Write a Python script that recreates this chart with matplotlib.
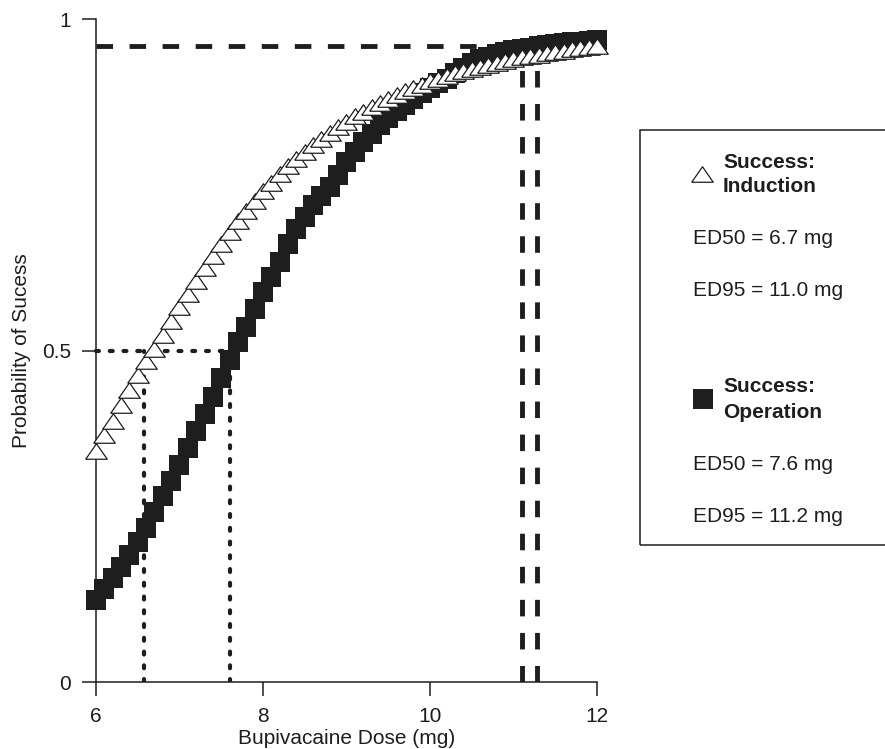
import matplotlib
matplotlib.use('Agg')
import matplotlib.pyplot as plt
import numpy as np
from matplotlib.patches import Rectangle

plt.rcParams['font.family'] = ['Liberation Sans', 'DejaVu Sans']

# Dose grid (mg) shared by both series
dose = [6.0, 6.1, 6.2, 6.3, 6.4, 6.5, 6.6, 6.7, 6.8, 6.9,
        7.0, 7.1, 7.2, 7.3, 7.4, 7.5, 7.6, 7.7, 7.8, 7.9,
        8.0, 8.1, 8.2, 8.3, 8.4, 8.5, 8.6, 8.7, 8.8, 8.9,
        9.0, 9.1, 9.2, 9.3, 9.4, 9.5, 9.6, 9.7, 9.8, 9.9,
        10.0, 10.1, 10.2, 10.3, 10.4, 10.5, 10.6, 10.7, 10.8, 10.9,
        11.0, 11.1, 11.2, 11.3, 11.4, 11.5, 11.6, 11.7, 11.8, 11.9,
        12.0]

# Probability of success - induction (triangles)
p_induction = [0.349, 0.372, 0.394, 0.418, 0.441, 0.463, 0.484, 0.503, 0.524, 0.545,
               0.565, 0.585, 0.605, 0.624, 0.642, 0.660, 0.678, 0.695, 0.711, 0.726,
               0.740, 0.753, 0.766, 0.778, 0.789, 0.800, 0.810, 0.819, 0.828, 0.837,
               0.845, 0.853, 0.860, 0.867, 0.874, 0.880, 0.886, 0.891, 0.896, 0.901,
               0.906, 0.910, 0.914, 0.918, 0.921, 0.925, 0.928, 0.931, 0.934, 0.937,
               0.940, 0.942, 0.944, 0.946, 0.948, 0.950, 0.952, 0.954, 0.956, 0.958,
               0.960]

# Probability of success - operation (squares)
p_operation = [0.123, 0.140, 0.157, 0.174, 0.191, 0.211, 0.233, 0.256, 0.280, 0.303,
               0.328, 0.353, 0.379, 0.404, 0.430, 0.458, 0.486, 0.513, 0.536, 0.562,
               0.588, 0.611, 0.633, 0.661, 0.683, 0.701, 0.719, 0.733, 0.747, 0.765,
               0.784, 0.800, 0.814, 0.827, 0.840, 0.851, 0.861, 0.870, 0.879, 0.888,
               0.896, 0.903, 0.910, 0.918, 0.926, 0.933, 0.939, 0.943, 0.947, 0.950,
               0.953, 0.955, 0.957, 0.959, 0.961, 0.963, 0.964, 0.965, 0.966, 0.967,
               0.968]

# Reference lines
ed50_level = 0.5
ed50_doses = [6.57, 7.6]
ed95_level = 0.96
ed95_doses = [11.1, 11.28]

# Legend texts
legend_induction = ['ED50 = 6.7 mg', 'ED95 = 11.0 mg']
legend_operation = ['ED50 = 7.6 mg', 'ED95 = 11.2 mg']

W, H = 885, 749
fig = plt.figure(figsize=(W / 100, H / 100), dpi=100)
ax = fig.add_axes([96 / W, 1 - 682 / H, (597 - 96) / W, (682 - 19) / H])

# Triangle marker, wider than tall
tri = [(-1, -0.72), (1, -0.72), (0, 0.72), (-1, -0.72)]

dot_style = (0, (0.7, 2.6))
dash_style = (0, (3.4, 3.4))

# Dotted ED50 lines
ax.plot([6, max(ed50_doses)], [ed50_level, ed50_level], color='#1e1e1e', lw=3.0,
        linestyle=dot_style, dash_capstyle='round', zorder=1, clip_on=False)
for d in ed50_doses:
    ax.plot([d, d], [0, ed50_level], color='#1e1e1e', lw=3.0,
            linestyle=dot_style, dash_capstyle='round', zorder=1)

# Dashed ED95 lines
ax.plot([6, max(ed95_doses)], [ed95_level, ed95_level], color='#1e1e1e', lw=3.5,
        linestyle=dash_style, zorder=1)
for d in ed95_doses:
    ax.plot([d, d], [0, ed95_level], color='#1e1e1e', lw=3.5,
            linestyle=dash_style, zorder=1)

# Data series
ax.plot(dose, p_operation, linestyle='none', marker='s', markersize=14.4,
        markerfacecolor='#1e1e1e', markeredgecolor='#1e1e1e', markeredgewidth=0,
        zorder=3, clip_on=False)
ax.plot(dose, p_induction, linestyle='none', marker=tri, markersize=15.5,
        markerfacecolor='white', markeredgecolor='#1e1e1e', markeredgewidth=0.9,
        zorder=4, clip_on=False)

ax.set_xlim(6, 12)
ax.set_ylim(0, 1)
ax.set_xticks([6, 8, 10, 12])
ax.set_yticks([0, 0.5, 1])
ax.set_yticklabels(['0', '0.5', '1'])
ax.spines['top'].set_visible(False)
ax.spines['right'].set_visible(False)
for s in ['left', 'bottom']:
    ax.spines[s].set_linewidth(1.1)
    ax.spines[s].set_color('#1e1e1e')
ax.tick_params(direction='out', length=10, width=1.1, color='#1e1e1e',
               labelsize=15, pad=8, labelcolor='#1e1e1e')
ax.set_xlabel('Bupivacaine Dose (mg)', fontsize=15, color='#1e1e1e', labelpad=2)
ax.set_ylabel('Probability of Sucess', fontsize=15, color='#1e1e1e', labelpad=8)

# Legend box drawn by hand
def fx(px):
    return px / W

def fy(py):
    return 1 - py / H

fig.patches.append(Rectangle((fx(640), fy(545)), 0.4, fy(130) - fy(545),
                             transform=fig.transFigure, fill=False,
                             edgecolor='#1e1e1e', lw=1.1))

fig.lines.append(plt.Line2D([fx(702)], [fy(174)], transform=fig.transFigure,
                            marker=tri, markersize=15.5, markerfacecolor='white',
                            markeredgecolor='#1e1e1e', markeredgewidth=0.9,
                            linestyle='none'))
fig.lines.append(plt.Line2D([fx(702.5)], [fy(399.5)], transform=fig.transFigure,
                            marker='s', markersize=14.4, markerfacecolor='#1e1e1e',
                            markeredgewidth=0, linestyle='none'))

tkw = dict(fontsize=15, color='#1e1e1e', va='center', ha='left')
fig.text(fx(723), fy(162), 'Success:', fontweight='bold', **tkw)
fig.text(fx(723), fy(187), 'Induction', fontweight='bold', **tkw)
fig.text(fx(693), fy(238), legend_induction[0], **tkw)
fig.text(fx(693), fy(290), legend_induction[1], **tkw)
fig.text(fx(723), fy(387), 'Success:', fontweight='bold', **tkw)
fig.text(fx(723), fy(413), 'Operation', fontweight='bold', **tkw)
fig.text(fx(693), fy(465), legend_operation[0], **tkw)
fig.text(fx(693), fy(517), legend_operation[1], **tkw)

fig.savefig('out.png', dpi=100)
